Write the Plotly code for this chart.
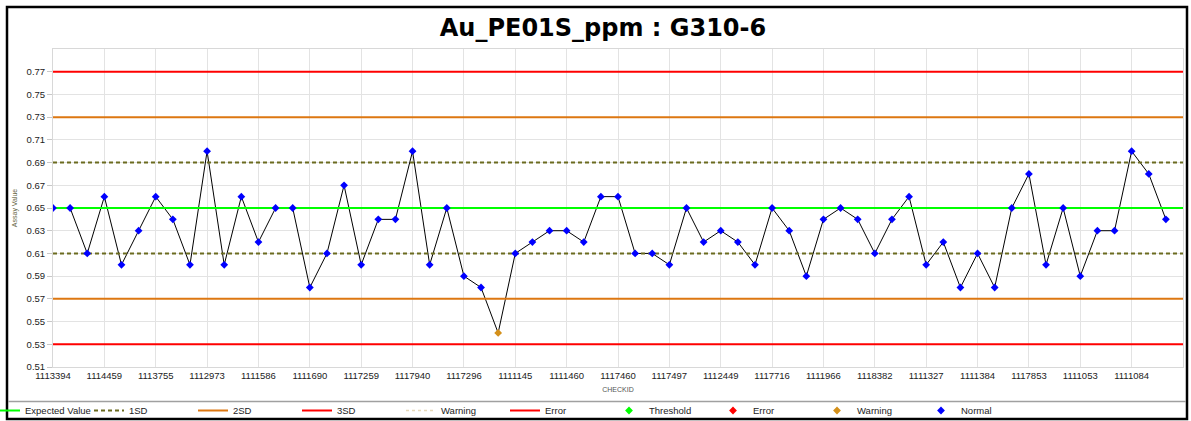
import plotly.graph_objects as go

# ---------------- data ----------------
title_text = "Au_PE01S_ppm : G310-6"
tick_labels = ["1113394", "1114459", "1113755", "1112973", "1111586", "1111690",
               "1117259", "1117940", "1117296", "1111145", "1111460", "1117460",
               "1117497", "1112449", "1117716", "1111966", "1118382", "1111327",
               "1111384", "1117853", "1111053", "1111084"]
tick_step = 3
assay_values = [0.65, 0.65, 0.61, 0.66, 0.60, 0.63, 0.66, 0.64, 0.60, 0.70,
                0.60, 0.66, 0.62, 0.65, 0.65, 0.58, 0.61, 0.67, 0.60, 0.64,
                0.64, 0.70, 0.60, 0.65, 0.59, 0.58, 0.54, 0.61, 0.62, 0.63,
                0.63, 0.62, 0.66, 0.66, 0.61, 0.61, 0.60, 0.65, 0.62, 0.63,
                0.62, 0.60, 0.65, 0.63, 0.59, 0.64, 0.65, 0.64, 0.61, 0.64,
                0.66, 0.60, 0.62, 0.58, 0.61, 0.58, 0.65, 0.68, 0.60, 0.65,
                0.59, 0.63, 0.63, 0.70, 0.68, 0.64]
expected_value = 0.65
sd = 0.04
sd1 = [expected_value - sd, expected_value + sd]
sd2 = [expected_value - 2 * sd, expected_value + 2 * sd]
sd3 = [expected_value - 3 * sd, expected_value + 3 * sd]
y_ticks = [round(0.51 + 0.02 * i, 2) for i in range(14)]

# ---------------- layout geometry ----------------
W, H = 1191, 421
L, R, T, B = 53, 8, 49, 54
PW, PH = W - L - R, H - T - B

def px_x(px):
    return (px - L) / PW

def px_y(py):
    return (H - B - py) / PH

n = len(assay_values)
xs = list(range(n))
x_range = [0, n]

C_GREEN = "#00FF00"
C_OLIVE = "#6B6B1F"
C_ORANGE = "#DD7711"
C_RED = "#FF0000"
C_BEIGE = "#E6D8B8"
C_BLUE = "#0000FF"
C_WARN = "#D4901A"

fig = go.Figure()

# connecting line (under reference lines)
fig.add_trace(go.Scatter(x=xs, y=assay_values, mode="lines",
                         line=dict(color="black", width=1),
                         showlegend=False, hoverinfo="skip"))

def hlines(vals):
    xx, yy = [], []
    for v in vals:
        xx += [x_range[0], x_range[1], None]
        yy += [v, v, None]
    return xx, yy

x3, y3 = hlines(sd3)
x2, y2 = hlines(sd2)
x1, y1 = hlines(sd1)
xe, ye = hlines([expected_value])

fig.add_trace(go.Scatter(x=xe, y=ye, mode="lines", name="Expected Value",
                         line=dict(color=C_GREEN, width=2)))
fig.add_trace(go.Scatter(x=x1, y=y1, mode="lines", name="1SD",
                         line=dict(color=C_OLIVE, width=2, dash="4px,3px")))
fig.add_trace(go.Scatter(x=x2, y=y2, mode="lines", name="2SD",
                         line=dict(color=C_ORANGE, width=2)))
fig.add_trace(go.Scatter(x=x3, y=y3, mode="lines", name="3SD",
                         line=dict(color=C_RED, width=2)))
fig.add_trace(go.Scatter(x=[None], y=[None], mode="lines", name="Warning",
                         line=dict(color=C_BEIGE, width=1.5, dash="dot")))
fig.add_trace(go.Scatter(x=[None], y=[None], mode="lines", name="Error",
                         line=dict(color=C_RED, width=2)))

# classify points
normal_x, normal_y, warn_x, warn_y, err_x, err_y = [], [], [], [], [], []
for i, v in enumerate(assay_values):
    if v < sd3[0] or v > sd3[1]:
        err_x.append(i); err_y.append(v)
    elif v < sd2[0] or v > sd2[1]:
        warn_x.append(i); warn_y.append(v)
    else:
        normal_x.append(i); normal_y.append(v)

msize = 6
fig.add_trace(go.Scatter(x=[None], y=[None], mode="markers", name="Threshold",
                         marker=dict(color=C_GREEN, size=msize, symbol="diamond")))
fig.add_trace(go.Scatter(x=err_x or [None], y=err_y or [None], mode="markers", name="Error",
                         marker=dict(color=C_RED, size=msize, symbol="diamond")))
fig.add_trace(go.Scatter(x=warn_x or [None], y=warn_y or [None], mode="markers", name="Warning",
                         marker=dict(color=C_WARN, size=msize, symbol="diamond")))
fig.add_trace(go.Scatter(x=normal_x, y=normal_y, mode="markers", name="Normal",
                         marker=dict(color=C_BLUE, size=msize, symbol="diamond")))

tick_font = dict(family="Liberation Sans, Arial, sans-serif", size=9.5, color="#222222")

fig.update_layout(
    width=W, height=H,
    margin=dict(l=L, r=R, t=T, b=B, autoexpand=False),
    paper_bgcolor="white", plot_bgcolor="white",
    title=dict(text=title_text, xref="container", yref="container",
               x=603 / W, xanchor="center",
               y=1 - 28 / H, yanchor="middle",
               font=dict(family="DejaVu Sans, sans-serif", size=24, color="black",
                         weight="bold")),
    xaxis=dict(range=x_range, tickmode="array",
               tickvals=xs[::tick_step][:len(tick_labels)], ticktext=tick_labels,
               showgrid=True, gridcolor="#E3E3E3", gridwidth=1,
               showline=True, linecolor="#D8D8D8", linewidth=1, mirror=True,
               ticks="", tickfont=tick_font, zeroline=False,
               title=dict(text="CHECKID", standoff=6,
                          font=dict(family="Liberation Sans, Arial", size=7, color="#555555"))),
    yaxis=dict(range=[0.51, 0.79], tickmode="array", tickvals=y_ticks,
               tickformat=".2f",
               showgrid=True, gridcolor="#E3E3E3", gridwidth=1,
               showline=True, linecolor="#D8D8D8", linewidth=1, mirror=True,
               ticks="outside", ticklen=5, tickcolor="#C8C8C8",
               tickfont=tick_font, zeroline=False,
               title=dict(text="Assay Value", standoff=8,
                          font=dict(family="Liberation Sans, Arial", size=7, color="#666644"))),
    legend=dict(orientation="h", x=px_x(-15), xanchor="left",
                y=px_y(410.5), yanchor="middle",
                entrywidth=59, entrywidthmode="pixels",
                itemwidth=30, bgcolor="rgba(0,0,0,0)",
                font=dict(family="Liberation Sans, Arial", size=9.5, color="#222222"),
                traceorder="normal"),
    showlegend=True,
)

# outer frame and legend separator
fig.add_shape(type="rect", xref="paper", yref="paper",
              x0=px_x(7), x1=px_x(1187), y0=px_y(7), y1=px_y(419),
              line=dict(color="black", width=2.5), layer="above")
fig.add_shape(type="line", xref="paper", yref="paper",
              x0=px_x(8), x1=px_x(1186), y0=px_y(401.5), y1=px_y(401.5),
              line=dict(color="#A0A0A0", width=1.5), layer="above")

fig.write_html("out.html", config={"displayModeBar": False},
               post_script="document.body.style.margin='0';document.body.style.overflow='hidden';")
